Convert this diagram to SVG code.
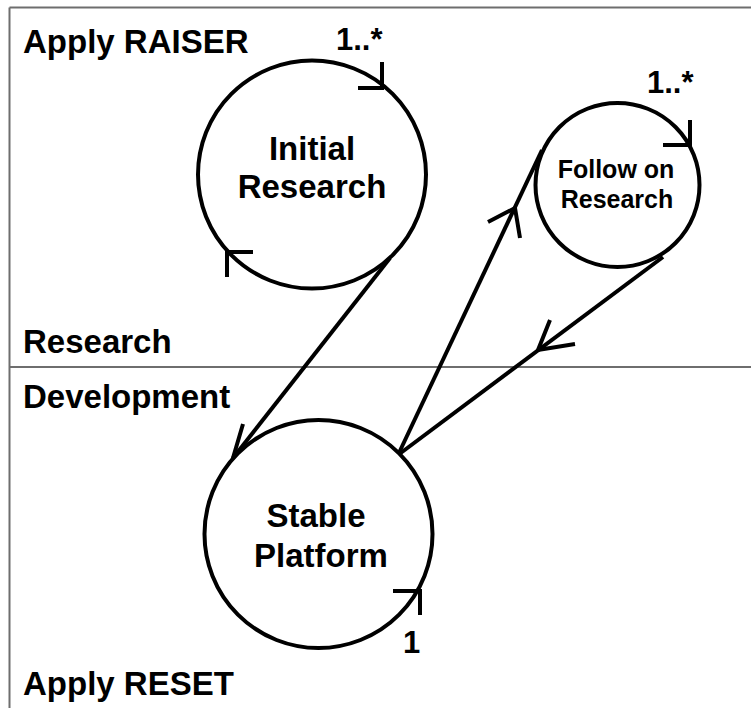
<svg xmlns="http://www.w3.org/2000/svg" width="751" height="708" viewBox="0 0 751 708">
  <style>
    .frame { stroke: #6e6e6e; stroke-width: 2; fill: none; }
    .state { fill: #ffffff; stroke: #000; stroke-width: 4; }
    .flow { stroke: #000; stroke-width: 4; fill: none; stroke-linecap: butt; }
    .barb { stroke: #000; stroke-width: 4; fill: none; stroke-linejoin: miter; }
    .lbl { font-family: "Liberation Sans", Arial, sans-serif; font-weight: bold; fill: #000; }
    .big { font-size: 33px; }
    .mid { font-size: 25px; }
    .mult { font-size: 31px; }
  </style>
  <rect width="751" height="708" fill="#ffffff"/>

  <!-- swimlane frame -->
  <g id="frame">
    <line class="frame" x1="9.5" y1="7.5" x2="751" y2="7.5"/>
    <line class="frame" x1="9.5" y1="7.5" x2="9.5" y2="708"/>
    <line class="frame" x1="9.5" y1="367" x2="751" y2="367"/>
  </g>

  <!-- lane captions -->
  <g id="lane-labels" class="lbl big">
    <text x="23" y="53">Apply RAISER</text>
    <text x="23" y="353">Research</text>
    <text x="23" y="408">Development</text>
    <text x="23" y="695">Apply RESET</text>
  </g>

  <!-- connectors -->
  <g id="connectors">
    <line class="flow" x1="390" y1="258" x2="233" y2="458"/>
    <polyline class="barb" points="243,424 233,458 268,445"/>

    <line class="flow" x1="398" y1="455" x2="542" y2="150"/>
    <polyline class="barb" points="488,222 515,208 520,238"/>

    <line class="flow" x1="663" y1="257" x2="398" y2="455"/>
    <polyline class="barb" points="550,320 538,350 575,344"/>
  </g>

  <g id="initial-research">
    <circle class="state" cx="312" cy="174.5" r="114"/>
    <polyline class="barb" points="358,88 382,88 382,62"/>
    <polyline class="barb" points="253,252 227,252 227,277"/>
    <text class="lbl big" x="312" y="160" text-anchor="middle">Initial</text>
    <text class="lbl big" x="312" y="198" text-anchor="middle">Research</text>
    <text class="lbl mult" x="336" y="50">1..*</text>
  </g>

  <g id="follow-on-research">
    <circle class="state" cx="617.5" cy="185" r="82"/>
    <polyline class="barb" points="663,145 690,145 690,120"/>
    <text class="lbl mid" x="616" y="178" text-anchor="middle">Follow on</text>
    <text class="lbl mid" x="617" y="208" text-anchor="middle">Research</text>
    <text class="lbl mult" x="647" y="93">1..*</text>
  </g>

  <g id="stable-platform">
    <circle class="state" cx="318.5" cy="534" r="114"/>
    <polyline class="barb" points="393,591 420,591 420,615"/>
    <text class="lbl big" x="316" y="527" text-anchor="middle">Stable</text>
    <text class="lbl big" x="321" y="567" text-anchor="middle">Platform</text>
    <text class="lbl mult" x="403" y="653">1</text>
  </g>
</svg>
